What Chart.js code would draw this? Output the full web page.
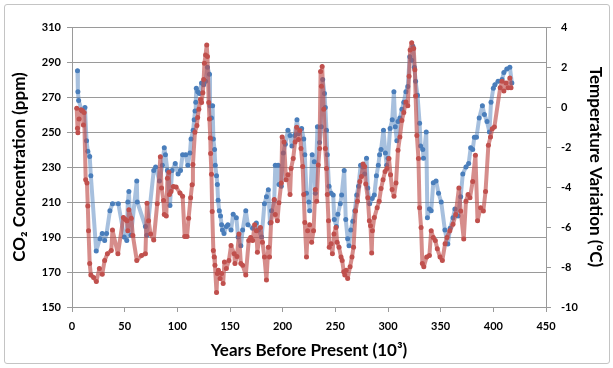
<!DOCTYPE html>
<html>
<head>
<meta charset="utf-8">
<script src="https://cdn.jsdelivr.net/npm/chart.js@4"></script>
<style>
  body { margin: 0; background: #fff; }
  #wrap { position: relative; width: 613px; height: 368px; }
  #frame { position: absolute; left: 4px; top: 4px; width: 604px; height: 358px;
           border: 1px solid #c4c4c4; border-radius: 3px; }
  #chart { position: absolute; left: 0; top: 0; }
</style>
</head>
<body>
<div id="wrap">
  <div id="frame"></div>
  <canvas id="chart" width="613" height="368"></canvas>
</div>
<script>
// CO2 (ppm) vs. thousand years before present
const co2Years = [5.2, 5.6, 6.3, 9.5, 12.3, 13.8, 15, 16.8, 17.9, 23, 26.5, 28.7, 31, 32.8, 36, 38.4, 44, 49.6, 52, 53, 54,
  56, 61.5, 62, 69.7, 71, 77.6, 79.4, 83, 85.8, 87.6, 88.7, 90.6, 93, 95, 98, 100.7, 103, 105, 108, 110, 112, 113,
  115, 116, 116.8, 117.5, 118, 119.3, 121, 123, 125, 126.8, 128.6, 130.5, 131, 132.4, 133.5, 134.2, 135.3, 136,
  137.2, 138, 138.7, 139.8, 141, 142, 142.8, 144.3, 146.5, 148, 151, 153, 156, 157.7, 160.3, 162, 165, 167, 171.5,
  175, 177, 180, 182.7, 184.6, 186.4, 188, 189.4, 192, 193, 195.7, 196.5, 198.7, 200.6, 202.5, 205, 207, 208.8,
  211.4, 213.6, 215, 218, 220, 221, 222.6, 224.8, 225.6, 228, 230, 231, 233, 235, 236.8, 238, 239.7, 240.5, 241.6,
  242.4, 244, 246, 248, 249, 251, 252.4, 254.7, 256, 258.4, 259.9, 261.7, 263, 264.7, 266.6, 268.5, 270.3, 272,
  274, 276, 277.8, 279.6, 280.8, 282.6, 285, 287, 289, 290.8, 292, 293.4, 295.7, 297.5, 298.7, 300, 302, 304,
  305.6, 306.9, 308.4, 309.5, 311.3, 313.2, 315, 317, 318.8, 320.6, 322.5, 323.6, 325, 326.2, 328, 330, 331, 333,
  333.7, 336.3, 337.4, 339.3, 341, 343, 345.6, 348, 350.5, 354, 356.8, 359, 361.7, 363.5, 366.5, 369, 371, 374,
  376.6, 378.5, 380.4, 382, 384, 386.6, 389.6, 391.5, 394, 396.3, 397.8, 400, 401.5, 404.5, 408.3, 410, 412.8,
  415.7, 417.6];
const co2Values = [285, 273, 268, 262, 264, 245, 239, 236, 225, 182, 189, 192, 188, 192, 205, 209, 209, 190, 188, 210, 216,
  191, 222, 210, 196, 191, 228, 230, 222, 231, 241, 237, 228, 208, 228, 232, 226, 228, 237, 237, 231, 238, 246,
  251, 257, 262, 267, 275, 273, 272, 278, 277, 279, 287, 283, 265, 258, 265, 246, 240, 231,
  225, 220, 211, 205, 202, 197, 194, 192, 196, 197, 194, 203, 201, 190, 185, 194, 205, 197, 195,
  198, 194, 190, 209, 213, 217, 198, 205, 211, 231, 231, 220, 219, 238, 243, 251, 248, 242,
  248, 257, 249, 252, 246, 237, 215, 210, 205, 237, 233, 215, 253, 244, 253, 280, 272, 264, 251,
  237, 219, 215, 214, 200, 196, 203, 209, 214, 228, 200, 189, 185, 194, 199, 205, 214, 219,
  231, 230, 226, 235, 218, 209, 212, 214, 225, 231, 237, 240, 251, 238, 231, 235, 252, 257,
  273, 253, 245, 256, 258, 263, 267, 273, 276, 293, 291, 299, 287, 279, 271, 255, 242, 240,
  235, 250, 201, 206, 205, 221, 222, 215, 210, 194, 186, 195, 201, 206, 202, 213, 226, 230,
  232, 241, 240, 247, 247, 258, 265, 260, 256, 250, 267, 275, 277, 279, 280, 284, 286,
  287, 278];

// Temperature variation (deg C) vs. thousand years before present
const tempYears = [4.5, 5.2, 5.6, 6.7, 8.6, 10, 10.8, 11.5, 13, 14.2, 15, 15.7, 16.8, 17.9, 20.5, 23.1, 26, 28.7, 31, 33.6,
  37.3, 38.4, 43.6, 48.8, 50.3, 52.2, 53, 54, 56.3, 57.8, 61.5, 66, 69.7, 71.2, 72.7, 74.6, 77.6, 80.9, 83.9, 85,
  86.9, 87.6, 89.5, 90.6, 92, 92.5, 94, 96.2, 98.8, 102.5, 105, 107, 109.2, 110.7, 112.6, 114, 114.8, 116.7,
  118.6, 119.3, 120.4, 122, 123, 124.2, 125, 125.7, 126.8, 127.9, 128.6, 129.8, 130.5, 131.3, 131.6, 132.4,
  133.1, 134.2, 135, 135.7, 137.2, 138, 139, 140.6, 142, 143.5, 144.7, 146.5, 149, 151, 154, 154.7, 156.6,
  158.5, 160.3, 162, 165, 167.8, 169.6, 171.5, 173.4, 175, 176, 178.9, 180.8, 182.7, 184.6, 186.4, 187.5, 189,
  192, 193, 195, 196.5, 198.7, 199.5, 201.3, 203.2, 205, 207, 208, 210, 211.8, 213.3, 215, 216.3, 217.4, 219,
  220, 221, 222.6, 223.7, 225.6, 227.5, 229.3, 231, 232.3, 233.8, 235, 236, 236.8, 237.5, 239, 240.5, 241.6,
  242.4, 243.5, 244.2, 246, 247.2, 248.7, 250.6, 251.7, 253.5, 255.4, 256.5, 258, 259, 260.3, 261.7, 264,
  265.8, 267.3, 269.2, 271, 273.3, 274.8, 276.3, 277.8, 278.9, 280.8, 282.3, 283.4, 284.5, 285.2, 287, 289.7,
  291.6, 293.4, 295.3, 297.2, 299, 300.9, 302.4, 303.9, 305.7, 307.6, 309.5, 311.3, 313.2, 315, 317, 318.8,
  320, 321, 322.5, 324.4, 325.5, 326.2, 327.4, 328.9, 330, 331.4, 332.6, 334, 336.7, 339.3, 341, 343, 344.9,
  346.8, 349.4, 351.6, 354.2, 356, 358.7, 361.7, 364.3, 367.3, 369, 371.9, 374, 376, 377.8, 380.4, 383, 385,
  387.9, 390.5, 392.6, 395.3, 397.3, 399, 401, 406.5, 408.3, 410, 412, 414, 415.7, 416.8];
const tempValues = [-0.06, -1.06, -1.29, -0.6, -0.14, -0.19, -0.9, -0.27, -3.64, -3.8, -4.95, -6.19, -7.83, -8.4, -8.52, -8.73, -8.08, -8.36, -7.67, -7.34,
  -7.17, -6.15, -7.34, -5.53, -5.61, -5.69, -6.19, -5.14, -5.56, -6.43, -7.67, -7.42, -7.34, -4.81, -5.69, -6.35, -6.65, -4.84, -2.49, -4.05,
  -4.68, -5.37, -5.45, -3.56, -3.26, -4.38, -4.22, -3.97, -4.0, -4.3, -4.46, -6.48, -6.48, -5.56, -4.54, -3.89, -2.87, -1.26,
  -0.93, -0.52, -0.11, 0.39, 0.22, 0.71, 1.37, 2.19, 2.6, 3.1, 2.52, 0.22, -0.6, -1.55, -2.33, -3.36,
  -5.23, -7.17, -7.5, -7.91, -9.28, -8.32, -8.16, -8.57, -8.32, -8.82, -7.75, -8.08, -7.67, -6.93, -7.34, -7.83, -7.47,
  -6.35, -7.83, -7.91, -8.4, -6.68, -6.52, -6.68, -5.89, -6.19, -7.26, -6.02, -6.76, -7.5, -8.65, -7.01, -7.5, -5.78,
  -4.63, -5.37, -5.69, -4.79, -3.8, -1.5, -1.75, -3.64, -3.39, -4.38, -3.07, -2.57, -1.75, -1.01, -1.62, -1.18, -2.08, -2.98,
  -4.38, -5.78, -7.5, -6.19, -5.89, -6.76, -6.19, -4.13, -4.71, -2.9, -2.08, 1.78, 1.04, 2.03, -0.11, -2.08, -3.07,
  -4.38, -5.69, -7.01, -6.84, -7.34, -6.35, -6.02, -6.76, -7.01, -7.5, -7.67, -8.24, -8.4, -8.16, -8.57, -7.99,
  -7.5, -7.01, -5.2, -4.71, -3.72, -3.48, -2.85, -2.98, -3.85, -4.54, -5.69, -5.94, -7.3, -6.19, -5.53, -5.04,
  -4.71, -4.08, -3.64, -3.23, -3.07, -2.57, -3.39, -4.13, -4.46, -3.8, -2.16, -1.5, -0.68, -0.27, 0.25, 0.06,
  1.54, 2.85, 3.21, 2.93, 1.86, 0.55, -1.42, -2.57, -5.04, -6.02, -7.83, -7.99, -7.5, -7.42, -6.19, -6.52, -6.68,
  -7.09, -7.5, -7.67, -6.84, -6.52, -6.19, -5.86, -5.37, -4.05, -5.2, -6.6, -4.71, -4.38, -4.54, -3.72, -2.41, -5.69,
  -5.04, -5.2, -4.22, -1.91, -1.5, -1.09, -1.0, 0.96, 1.29, 0.8, 1.2, 0.96, 1.45, 0.96];

const co2Ticks = [150, 170, 190, 210, 230, 250, 270, 290, 310];
const tempTicks = [-10, -8, -6, -4, -2, 0, 2, 4];

const toPoints = (xs, ys) => xs.map((x, i) => ({ x: x, y: ys[i] }));

const axisGray = '#9a9a9a';
const tickFont = { family: 'Lato', size: 11, weight: 'bold' };
const titleFont = { family: 'Lato', size: 17, weight: 'bold' };

const data = {
  datasets: [
    {
      label: 'Temperature',
      data: toPoints(tempYears, tempValues),
      yAxisID: 'y1',
      showLine: true,
      borderColor: 'rgba(192, 80, 77, 0.65)',
      backgroundColor: 'rgb(192, 80, 77)',
      borderWidth: 4,
      borderJoinStyle: 'round',
      borderCapStyle: 'round',
      pointRadius: 2.5,
      pointBorderWidth: 0,
      order: 0
    },
    {
      label: 'CO2',
      data: toPoints(co2Years, co2Values),
      yAxisID: 'y',
      showLine: true,
      borderColor: 'rgba(79, 129, 189, 0.5)',
      backgroundColor: 'rgb(74, 126, 187)',
      borderWidth: 4,
      borderJoinStyle: 'round',
      borderCapStyle: 'round',
      pointRadius: 2.5,
      pointBorderWidth: 0,
      order: 1
    }
  ]
};

const config = {
  type: 'scatter',
  data: data,
  options: {
    responsive: false,
    animation: false,
    layout: { padding: { top: 27, left: 0, right: 0, bottom: 0 } },
    plugins: {
      legend: { display: false },
      tooltip: { enabled: false }
    },
    scales: {
      x: {
        type: 'linear',
        min: 0,
        max: 450,
        afterFit: s => { s.height = 61; },
        ticks: { stepSize: 50, color: '#000', font: tickFont, padding: 8 },
        grid: { drawOnChartArea: false, tickLength: 5, color: axisGray },
        border: { color: axisGray },
        title: { display: true, text: 'Years Before Present (10³)', color: '#000', font: titleFont, padding: { bottom: 7 } }
      },
      y: {
        type: 'linear',
        position: 'left',
        min: 150,
        max: 310,
        afterFit: s => { s.width = 72; },
        afterBuildTicks: s => { s.ticks = co2Ticks.map(v => ({ value: v })); },
        ticks: { color: '#000', font: tickFont, padding: 6 },
        grid: { color: axisGray, tickLength: 5 },
        border: { color: axisGray },
        title: { display: true, text: 'CO₂ Concentration (ppm)', color: '#000', font: titleFont, padding: { top: 9 } }
      },
      y1: {
        type: 'linear',
        position: 'right',
        min: -10,
        max: 4,
        afterFit: s => { s.width = 67; },
        afterBuildTicks: s => { s.ticks = tempTicks.map(v => ({ value: v })); },
        ticks: { color: '#000', font: tickFont, padding: 10 },
        grid: { drawOnChartArea: false, color: axisGray, tickLength: 5 },
        border: { color: axisGray },
        title: { display: true, text: 'Temperature Variation (ºC)', color: '#000', font: titleFont, padding: { top: 7 } }
      }
    }
  }
};

const myChart = new Chart(document.getElementById('chart'), config);
</script>
</body>
</html>
